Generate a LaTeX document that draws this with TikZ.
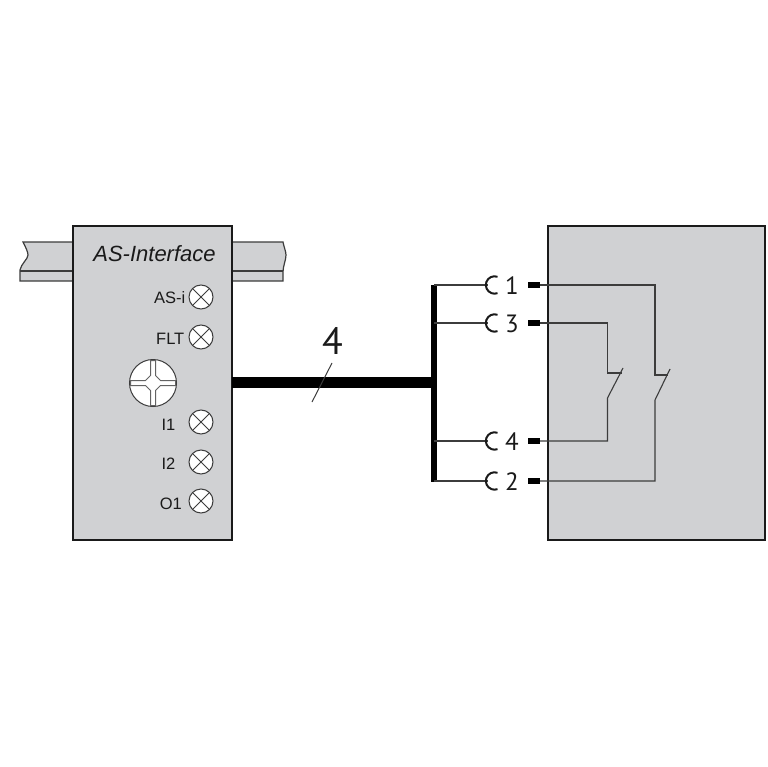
\documentclass[tikz,border=0pt]{standalone}
\usepackage{fontspec}
\setmainfont{Liberation Sans}
\newfontfamily\din{PT Sans}
\definecolor{panel}{HTML}{D0D1D3}
\definecolor{ink}{HTML}{1A1A1A}
\definecolor{wire}{HTML}{3C3C3C}
\tikzset{
  housing/.style={draw=ink,line width=2pt,fill=panel,outer sep=0pt},
  railpart/.style={draw=wire,line width=1.2pt,fill=panel},
  wireline/.style={draw=wire,line width=1.1pt},
  buslabel/.style={inner sep=0pt,font=\din\fontsize{25}{25}\selectfont,text=ink},
  ledlabel/.style={inner sep=0pt,anchor=east,font=\fontsize{16.5}{16.5}\selectfont,text=ink},
  ledlamp/.style={circle,draw=wire,line width=1pt,fill=white,minimum size=24pt,inner sep=0pt,
    path picture={\draw[wire,line width=1pt]
      (path picture bounding box.south west)--(path picture bounding box.north east)
      (path picture bounding box.north west)--(path picture bounding box.south east);}},
  pin/.style={fill=black,draw=none,minimum width=12pt,minimum height=6pt,inner sep=0pt},
}
\begin{document}
\begin{tikzpicture}[x=1pt,y=-1pt]
\useasboundingbox (0,0) rectangle (767,767);
% rail
\draw[railpart] (75,242) -- (23,242) .. controls (26,248) and (28,252) .. (28,255) .. controls (28,259) and (21,264) .. (20,270) -- (20,281) -- (75,281) -- cycle;
\draw[railpart] (20,271) -- (75,271);
\draw[railpart] (230,242) -- (283,242) .. controls (284,247) and (286,252) .. (286,255) .. controls (286,260) and (283,266) .. (283,272) -- (283,281) -- (230,281) -- cycle;
\draw[railpart] (230,271) -- (283,271);
% housings
\node[housing,anchor=north west,minimum width=159pt,minimum height=313.5pt,inner sep=0pt] (left) at (73,226) {};
\node[housing,anchor=north west,minimum width=217pt,minimum height=313.5pt,inner sep=0pt] (right) at (548,226) {};
\node[inner sep=0pt,font=\itshape\fontsize{22}{22}\selectfont,text=ink] (title) at (154.5,254) {AS-Interface};
% LEDs
\node[ledlamp] (l1) at (201,297) {};
\node[ledlamp] (l2) at (201,337) {};
\node[ledlamp] (l3) at (201,422) {};
\node[ledlamp] (l4) at (201,462) {};
\node[ledlamp] (l5) at (201,501) {};
\node[ledlabel] (t1) at (185.5,298) {AS-i};
\node[ledlabel] (t2) at (184.5,339) {FLT};
\node[ledlabel] (t3) at (175.5,425) {I1};
\node[ledlabel] (t4) at (175.5,464) {I2};
\node[ledlabel] (t5) at (182,503.5) {O1};
% screw
\node[circle,draw=wire,line width=1pt,fill=white,minimum size=47pt,inner sep=0pt] (screw) at (153,383) {};
\draw[wire!80,line width=1pt,fill=white]
 (150.5,360.5)--(155.5,360.5)--(155.5,375.5)--(160.5,380.5)--(175.5,380.5)--(175.5,385.5)--(160.5,385.5)--(155.5,390.5)--(155.5,405.5)--(150.5,405.5)--(150.5,390.5)--(145.5,385.5)--(130.5,385.5)--(130.5,380.5)--(145.5,380.5)--(150.5,375.5)--cycle;
% bus
\coordinate (bustop) at (434,284.5);
\coordinate (busbot) at (434,481.5);
\coordinate (busmid) at (434,382.5);
\draw[black,line width=6pt] (bustop) -- (busbot);
\draw[black,line width=11pt] (left.east |- busmid) -- (busmid);
\coordinate (sl1) at (332,363);
\coordinate (sl2) at (312,402);
\draw[wire,line width=1pt] (sl1) -- (sl2);
\node[inner sep=0pt,font=\din\fontsize{38}{38}\selectfont,text=ink] (four) at (332.5,341) {4};
% connectors
\foreach \nm/\lab/\yy in {a/1/285,b/3/323,c/4/441,d/2/481}{
  \coordinate (s\nm) at (434,\yy);
  \coordinate (c\nm) at (488,\yy);
  \draw[wireline] (s\nm) -- (c\nm);
  \draw[ink,line width=2pt] (497.5,\yy-8.2) arc[start angle=70,end angle=290,radius=8.7pt];
  \node[buslabel] (n\nm) at (512,\yy+0.5) {\lab};
  \node[pin] (p\nm) at (534,\yy) {};
}
% inner wiring
\coordinate (swA) at (607.5,373);
\coordinate (swB) at (655,375);
\draw[wireline] (pa.east) -- (655,285) -- (swB) -- (668,375);
\draw[wireline] (pb.east) -- (607.5,323) -- (swA) -- (622,373);
\draw[wireline] (pc.east) -- (607.5,441) -- (607.5,398) -- (623,368);
\draw[wireline] (pd.east) -- (655,481) -- (655,400) -- (670,369);
\end{tikzpicture}
\end{document}
